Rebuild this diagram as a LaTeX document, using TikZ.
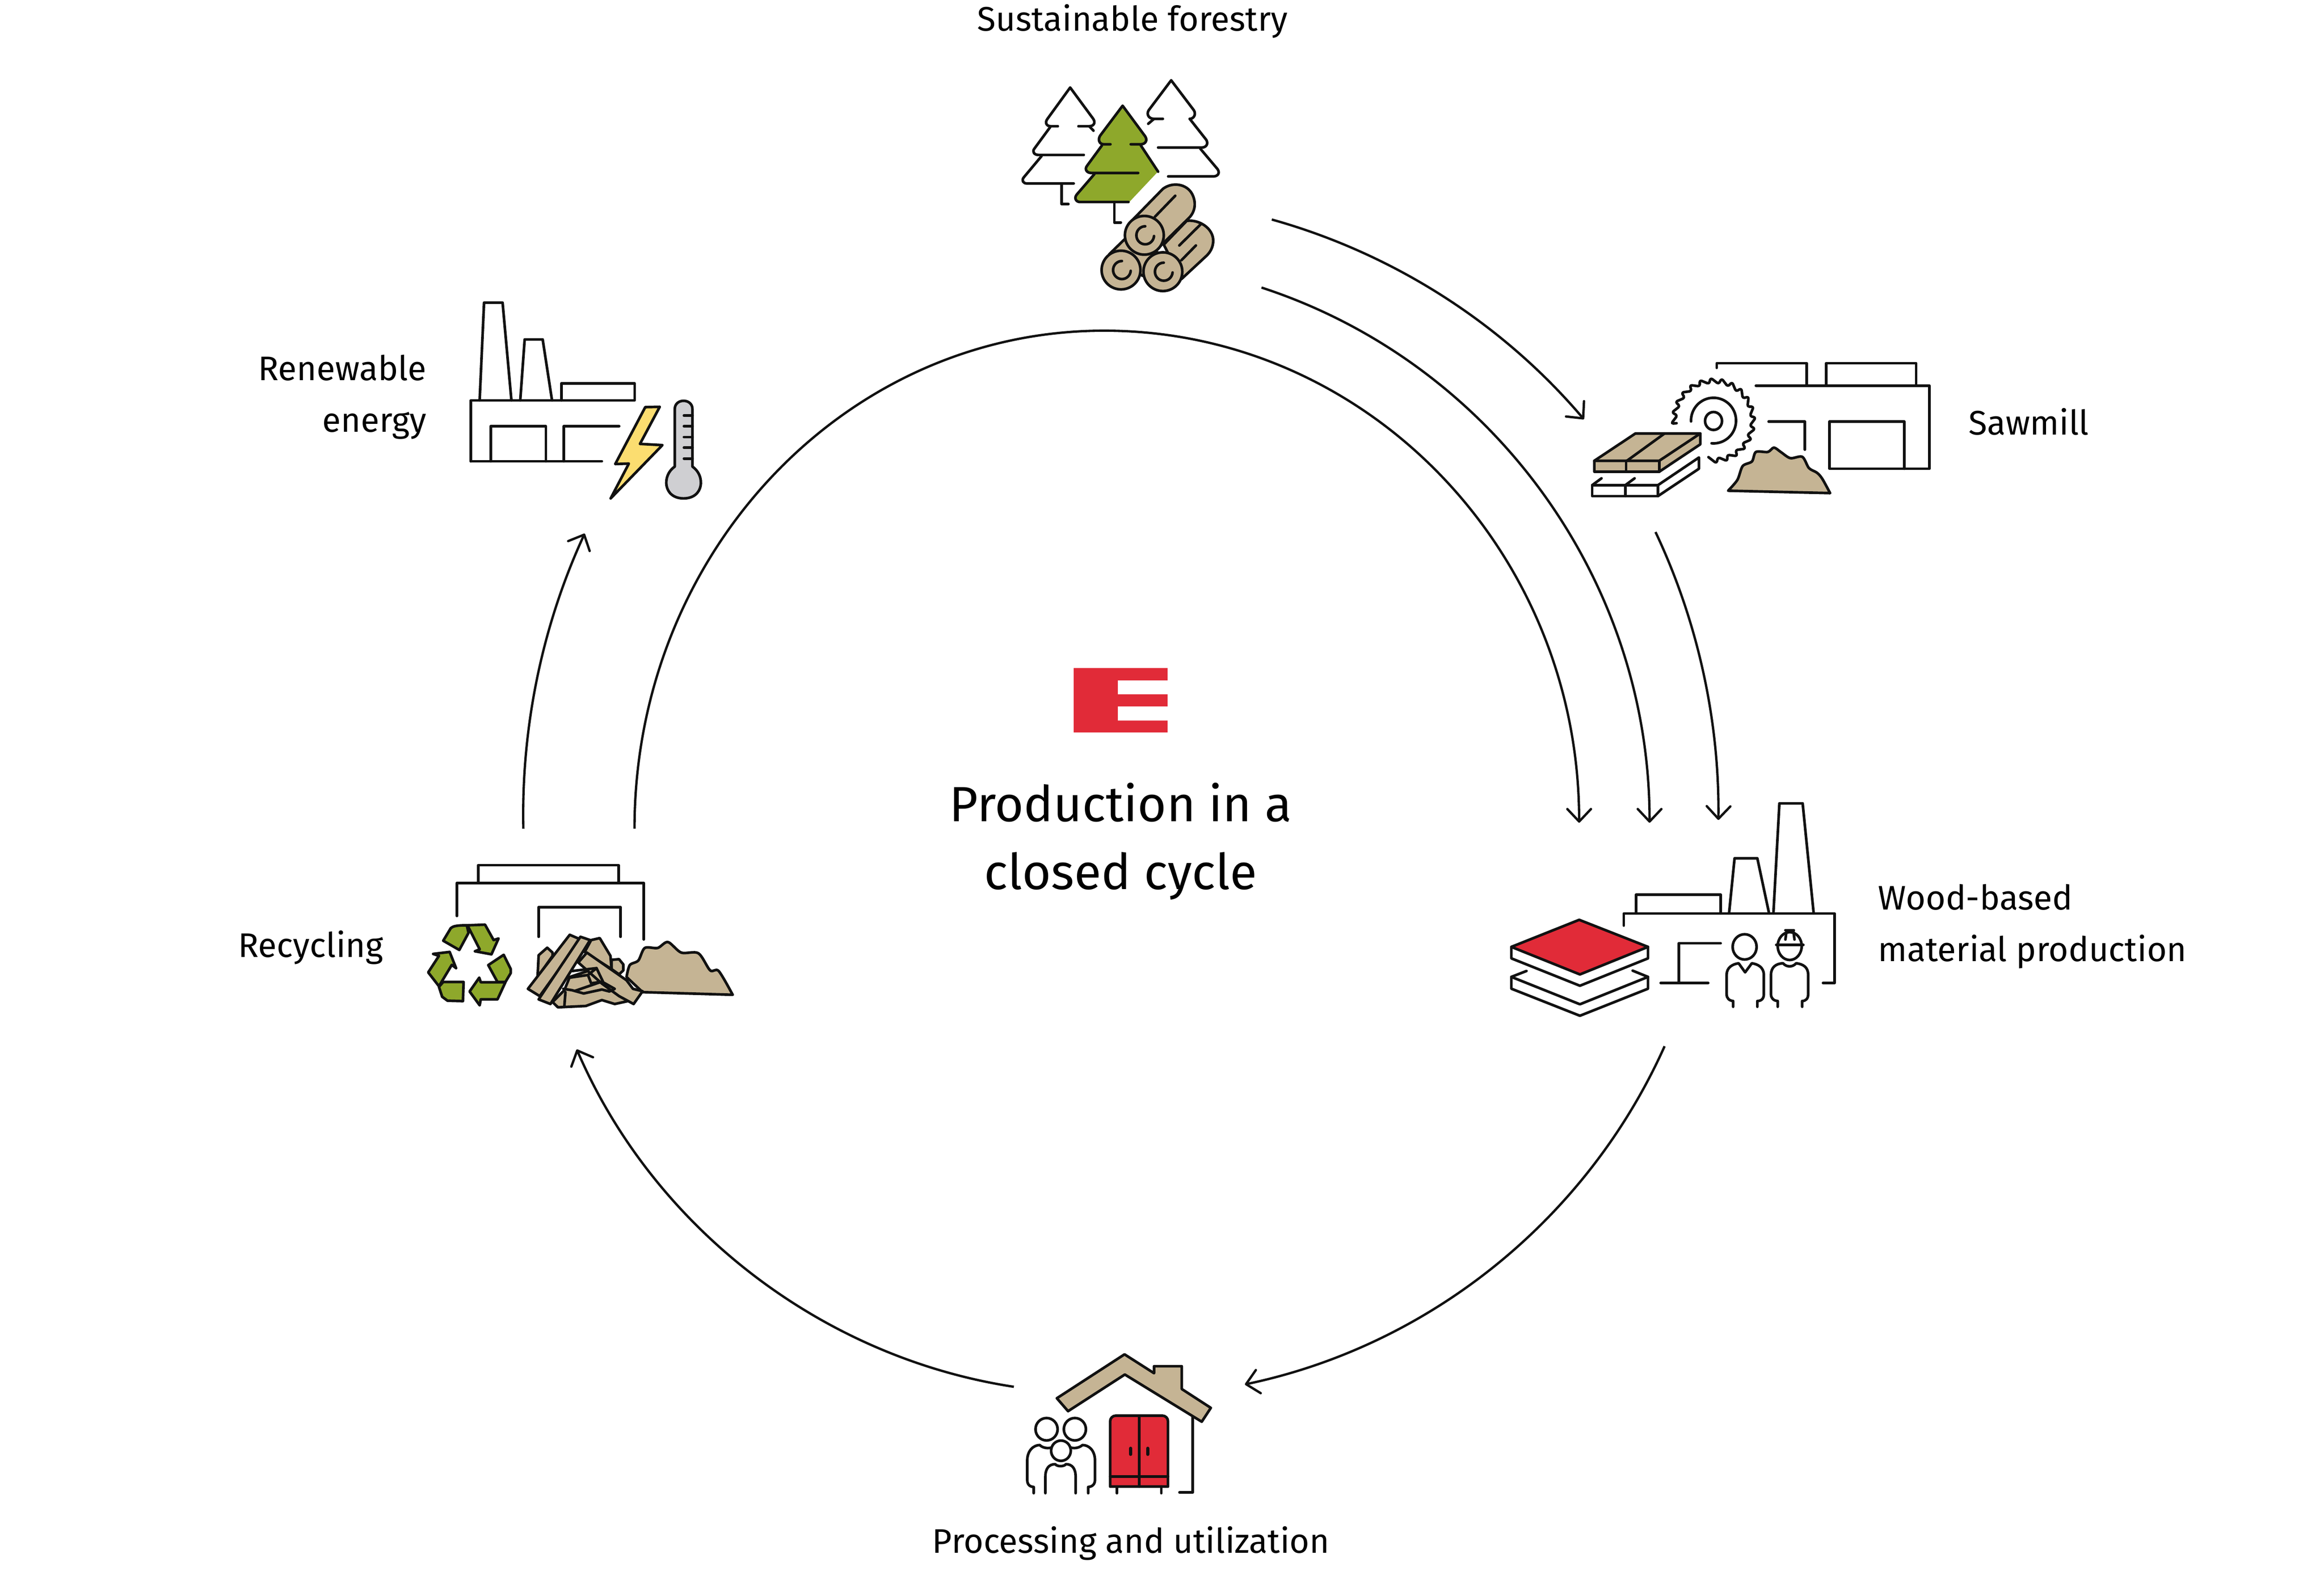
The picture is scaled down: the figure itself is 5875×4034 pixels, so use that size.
\documentclass[tikz,border=0pt]{standalone}
\usepackage{fontspec}
\setmainfont{Fira Sans}
\usetikzlibrary{arrows.meta,positioning}
\definecolor{inkblack}{HTML}{111111}
\definecolor{woodtan}{HTML}{C5B494}
\definecolor{forestgreen}{HTML}{8EA82B}
\definecolor{brandred}{HTML}{E12B38}
\definecolor{boltyellow}{HTML}{FBDD70}
\definecolor{metalgray}{HTML}{CFCFD2}

\begin{document}
\begin{tikzpicture}[
       x=0.01cm, y=-0.01cm,
       ink/.style={draw=inkblack, line width=1.9pt, line join=round, line cap=round},
       wood/.style={ink, fill=woodtan},
       leaf/.style={ink, fill=forestgreen},
       flow/.style={draw=inkblack, line width=1.7pt, -{Straight Barb[length=9pt,width=17pt,round]}},
       tag/.style={font=\fontsize{24.5}{37}\selectfont, text=black, inner sep=0pt},
       headline/.style={font=\fontsize{35.6}{49}\selectfont, text=black, inner sep=0pt, align=center}
      ]
      \useasboundingbox (0,0) rectangle (5875,4034);

      % labels
      \node[tag] (forestry) at (2863,54) {Sustainable forestry};
      \node[tag, anchor=west] (sawmill) at (4976,1066) {Sawmill};
      \node[tag, anchor=west, align=left] (board) at (4747,2342) {Wood-based\\material production};
      \node[tag] (utilization) at (2859,3902) {Processing and utilization};
      \node[tag, anchor=east] (recycling) at (970,2396) {Recycling};
      \node[tag, anchor=east, align=right] (energy) at (1079,1004) {Renewable\\energy};
      \node[headline] (cycle) at (2833,2127) {Production in a\\closed cycle};

      % connector ends
      \coordinate (forestA) at (3215,555);
      \coordinate (sawIn) at (4004,1060);
      \coordinate (forestB) at (3189,727);
      \coordinate (boardInB) at (4170,2080);
      \coordinate (recycleOut) at (1604,2095);
      \coordinate (topArc) at (2791,836);
      \coordinate (boardInA) at (3992,2080);
      \coordinate (sawOut) at (4185,1345);
      \coordinate (boardInC) at (4344,2073);
      \coordinate (boardOut) at (4208,2645);
      \coordinate (useIn) at (3147,3500);
      \coordinate (useOut) at (2563,3506);
      \coordinate (recycleIn) at (1458,2653);
      \coordinate (recycleUp) at (1323,2095);
      \coordinate (energyIn) at (1478,1349);

      \draw[flow] (forestA) to[bend left=17, looseness=0.87] (sawIn);
      \draw[flow] (forestB) to[bend left=36, looseness=0.94] (boardInB);
      \draw[flow] (recycleOut) .. controls (1604,1400) and (2135,836) .. (topArc)
                  .. controls (3454,836) and (3992,1393) .. (boardInA);
      \draw[flow] (sawOut) to[bend left=13, looseness=0.86] (boardInC);
      \draw[flow] (boardOut) to[bend left=27, looseness=0.9] (useIn);
      \draw[flow] (useOut) to[bend left=29, looseness=0.9] (recycleIn);
      \draw[flow] (recycleUp) to[bend left=13, looseness=0.86] (energyIn);

      % logo
      \begin{scope}[shift={(2650,1650)}, scale=0.3333]
        \fill[brandred] (193,117) -- (904,117) -- (904,210) -- (527,210) -- (527,316) -- (904,316)
          -- (904,408) -- (527,408) -- (527,515) -- (904,515) -- (904,605) -- (193,605) -- cycle;
      \end{scope}

      % forest
      \begin{scope}[shift={(2500,150)}, xscale=0.4464, yscale=0.4146]
        \draw[ink] (390,408) -- (350,408) .. controls (325,408) and (315,385) .. (332,362) -- (460,172) -- (590,362)
          .. controls (605,385) and (595,408) .. (568,408) -- (507,408);
        \draw[ink] (568,408) -- (592,435);
        \draw[ink] (347,413) -- (257,545) .. controls (243,565) and (258,583) .. (280,583) -- (537,583);
        \draw[ink] (298,590) -- (197,720) .. controls (183,740) and (195,757) .. (215,757) -- (480,757);
        \draw[ink] (412,757) -- (412,883) -- (450,883);

        \draw[ink] (985,363) -- (935,363) .. controls (905,363) and (890,335) .. (905,310) -- (1032,128) -- (1160,310)
          .. controls (1175,335) and (1160,363) .. (1137,363);
        \draw[ink] (935,363) -- (902,393);
        \draw[ink] (1137,363) -- (1230,490) .. controls (1245,515) and (1230,538) .. (1205,538) -- (958,538);
        \draw[ink] (1197,545) -- (1295,670) .. controls (1310,695) and (1295,714) .. (1270,714) -- (1015,714);

        \fill[forestgreen] (757,283) -- (885,470) .. controls (900,495) and (885,518) .. (860,518) -- (957,685)
          -- (795,870) -- (515,870) .. controls (490,870) and (480,845) .. (497,825) -- (597,700) -- (580,693)
          .. controls (555,693) and (540,672) .. (555,650) -- (640,525) .. controls (615,518) and (615,490) .. (630,465) -- cycle;
        \draw[ink] (688,518) -- (650,518) .. controls (625,518) and (615,490) .. (630,465) -- (757,283) -- (885,470)
          .. controls (900,495) and (885,518) .. (860,518) -- (803,518);
        \draw[ink] (640,525) -- (555,650) .. controls (540,672) and (555,693) .. (580,693) -- (845,693);
        \draw[ink] (860,525) -- (958,685);
        \draw[ink] (597,700) -- (497,825) .. controls (480,848) and (495,870) .. (515,870) -- (790,870);
        \draw[ink] (710,870) -- (710,995) -- (747,995);

        \draw[wood] (680,1190) -- (775,1090) -- (960,1180) -- (870,1320) -- cycle;
        \draw[wood] (990,1130) -- (1120,985) .. controls (1190,975) and (1270,1030) .. (1270,1105)
          .. controls (1270,1150) and (1250,1180) .. (1230,1200) -- (1090,1340) -- cycle;
        \draw[wood] (808,985) -- (985,790) .. controls (1040,745) and (1120,760) .. (1150,820)
          .. controls (1175,870) and (1170,930) .. (1130,970) -- (960,1150) -- cycle;
        \draw[ink] (940,960) -- (1055,832);
        \draw[ink] (1078,1135) -- (1200,1005);
        \draw[ink] (1090,1225) -- (1172,1135);
        \foreach \cx/\cy in {748/1285,985/1295,880/1073} {
          \draw[wood] (\cx,\cy) ellipse[x radius=110, y radius=118];
          \draw[ink] (\cx+5,\cy-55) arc[start angle=270, end angle=5, x radius=50, y radius=55];
        }
      \end{scope}

      % sawmill
      \begin{scope}[shift={(3950,850)}, xscale=0.6697, yscale=0.3333]
        \draw[ink] (730,375) -- (1385,375) -- (1385,1005) -- (1008,1005) -- (1008,648) -- (1290,648) -- (1290,1005);
        \draw[ink] (582,240) -- (582,205) -- (922,205) -- (922,375);
        \draw[ink] (995,375) -- (995,205) -- (1335,205) -- (1335,375);
        \draw[ink] (778,648) -- (915,648) -- (915,860);
        \begin{scope}[shift={(570,640)}]
          \draw[ink, rounded corners=1.5pt] (176:140 and 285) \foreach \a in {176,191,...,446} { -- (\a:160 and 325) -- (\a+12:138 and 280) };
          \draw[ink] (178:85 and 173) arc[start angle=178, end angle=455, x radius=85, y radius=173];
          \draw[ink] (0,3) ellipse[x radius=32, y radius=68];
        \end{scope}
        \draw[wood] (120,945) -- (275,738) -- (520,738) -- (520,820) -- (365,1028) -- (120,1028) -- cycle;
        \draw[ink] (120,945) -- (365,945) -- (520,738);
        \draw[ink] (365,945) -- (365,1028);
        \draw[ink] (243,945) -- (385,738);
        \draw[ink] (240,945) -- (240,1028);
        \draw[ink] (112,1130) -- (360,1130) -- (360,1213) -- (112,1213) -- cycle;
        \draw[ink] (237,1130) -- (237,1213);
        \draw[ink] (360,1130) -- (515,920) -- (515,1005) -- (360,1213);
        \draw[ink] (112,1130) -- (147,1078);
        \draw[ink] (237,1130) -- (272,1078);
        \draw[wood] plot[smooth, tension=0.5] coordinates {(625,1172) (660,1090) (680,985) (715,950) (730,878)
          (775,878) (798,845) (825,880) (860,925) (905,915) (930,1000) (960,1035) (980,1080) (1010,1190)} -- cycle;
      \end{scope}

      % board plant
      \begin{scope}[shift={(3780,2000)}, xscale=0.6061, yscale=0.4146]
        \draw[ink] (536,820) -- (536,746) -- (1415,746) -- (1415,1170) -- (1367,1170);
        \draw[ink] (587,746) -- (587,632) -- (940,632) -- (940,746);
        \draw[ink] (975,746) -- (998,410) -- (1093,410) -- (1142,746);
        \draw[ink] (1160,746) -- (1185,75) -- (1282,75) -- (1328,746);
        \draw[ink] (940,928) -- (765,928) -- (765,1170);
        \draw[ink] (690,1170) -- (888,1170);
        \draw[ink, fill=brandred] (350,785) -- (637,950) -- (353,1118) -- (67,950) -- cycle;
        \draw[ink] (67,950) -- (67,1020) -- (353,1187) -- (637,1020) -- (637,950);
        \draw[ink] (130,1097) -- (67,1133) -- (353,1300) -- (637,1133) -- (573,1095);
        \draw[ink] (67,1133) -- (67,1205) -- (353,1370) -- (637,1205) -- (637,1133);
        \draw[ink] (1040,950) ellipse[x radius=50, y radius=77];
        \draw[ink] (992,1315) -- (992,1280) .. controls (975,1278) and (965,1262) .. (965,1240) -- (965,1120)
          .. controls (965,1075) and (990,1055) .. (1015,1050) -- (1042,1105) -- (1070,1050)
          .. controls (1095,1055) and (1120,1075) .. (1120,1120) -- (1120,1240)
          .. controls (1120,1265) and (1110,1280) .. (1093,1280) -- (1093,1315);
        \draw[ink] (1228,945) ellipse[x radius=50, y radius=85];
        \draw[ink] (1172,938) -- (1285,938);
        \draw[ink] (1210,848) -- (1245,848);
        \draw[ink] (1210,905) -- (1215,850);
        \draw[ink] (1248,905) -- (1243,850);
        \draw[ink] (1178,1315) -- (1178,1280) .. controls (1160,1278) and (1150,1262) .. (1150,1240) -- (1150,1120)
          .. controls (1150,1075) and (1170,1052) .. (1200,1050) .. controls (1215,1075) and (1240,1075) .. (1255,1050)
          .. controls (1285,1055) and (1305,1075) .. (1305,1120) -- (1305,1240)
          .. controls (1305,1265) and (1295,1280) .. (1280,1280) -- (1280,1315);
      \end{scope}

      % house
      \begin{scope}[shift={(2550,3400)}, xscale=0.3827, yscale=0.3333]
        \draw[wood] (318,405) -- (765,72) -- (960,215) -- (960,162) -- (1143,162) -- (1143,335) -- (1335,478)
          -- (1275,583) -- (767,225) -- (392,503) -- cycle;
        \draw[ink] (1215,545) -- (1215,1120) -- (1128,1120);
        \draw[ink, fill=brandred] (670,1075) [rounded corners=4pt] -- (670,537) -- (1052,537) [sharp corners] -- (1052,1075) -- cycle;
        \draw[ink] (862,537) -- (862,1075);
        \draw[ink] (670,998) -- (1052,998);
        \draw[ink, line width=2.4pt] (805,785) -- (805,830);
        \draw[ink, line width=2.4pt] (918,785) -- (918,830);
        \draw[ink] (715,1075) -- (715,1125);
        \draw[ink] (1008,1075) -- (1008,1125);
        \draw[ink] (250,640) ellipse[x radius=73, y radius=85];
        \draw[ink] (437,640) ellipse[x radius=73, y radius=85];
        \draw[ink] (345,803) ellipse[x radius=65, y radius=77];
        \draw[ink] (165,1125) -- (165,1078) .. controls (130,1075) and (122,1050) .. (122,1020) -- (122,880)
          .. controls (122,800) and (165,760) .. (205,760) .. controls (220,778) and (250,788) .. (280,780);
        \draw[ink] (525,1125) -- (525,1078) .. controls (560,1075) and (570,1050) .. (570,1020) -- (570,880)
          .. controls (570,800) and (530,760) .. (487,760) .. controls (470,778) and (440,788) .. (412,780);
        \draw[ink] (242,1125) -- (242,1000) .. controls (242,940) and (265,905) .. (307,905)
          .. controls (320,925) and (365,925) .. (378,905) .. controls (420,905) and (442,940) .. (442,1000) -- (442,1125);
      \end{scope}

      % recycling
      \begin{scope}[shift={(1050,2150)}, xscale=0.542, yscale=0.3333]
        \draw[ink] (194,497) -- (194,247) -- (1065,247) -- (1065,675);
        \draw[ink] (293,247) -- (293,112) -- (948,112) -- (948,247);
        \draw[ink] (575,655) -- (575,430) -- (957,430) -- (957,655);
        \draw[leaf] (130,685) -- (165,590) .. controls (175,575) and (190,568) .. (240,568) -- (248,625) -- (205,755) -- cycle;
        \draw[leaf] (243,568) -- (325,563) -- (365,680) -- (388,668) -- (355,788) -- (278,765) -- (300,750) -- cycle;
        \draw[leaf] (340,870) -- (412,792) -- (445,900) -- (445,930) -- (420,998) -- (383,998) -- cycle;
        \draw[leaf] (420,1000) -- (305,1000) -- (298,965) -- (253,1070) -- (300,1175) -- (305,1130) -- (383,1130) -- cycle;
        \draw[leaf] (225,998) -- (130,998) -- (110,1035) -- (125,1110) -- (150,1140) -- (222,1143) -- cycle;
        \draw[leaf] (60,925) -- (110,800) -- (83,785) -- (160,770) -- (190,893) -- (170,868) -- (110,1030) -- cycle;
        \draw[wood] plot[smooth, tension=0.5] coordinates {(985,960) (1000,870) (1040,835) (1070,740) (1130,740)
          (1178,695) (1240,775) (1320,780) (1375,910) (1415,915) (1480,1095)} -- (1060,1075) -- cycle;
        \draw[wood] (575,795) -- (615,738) -- (640,775) -- (640,800) -- (570,960) -- cycle;
        \draw[wood] (915,830) -- (950,825) -- (970,865) -- (970,910) -- (950,940) -- (915,900) -- cycle;
        \draw[wood] (820,680) -- (860,665) -- (910,800) -- (915,900) -- (790,770) -- cycle;
        \draw[wood] (720,960) -- (850,890) -- (880,1000) -- (930,1050) -- (1000,1140) -- (930,1165) -- (870,1135)
          -- (795,1180) -- (665,1190) -- (640,1150) -- (695,1060) -- cycle;
        \draw[wood] (800,775) -- (985,985) -- (1015,1050) -- (1060,1068) -- (1018,1165) -- (950,1105) -- (870,1010) -- (760,850) -- cycle;
        \draw[ink] (730,915) -- (845,893);
        \draw[ink] (720,965) -- (805,945) -- (845,893) -- (875,995) -- (820,1008) -- (805,945);
        \draw[ink] (690,1050) -- (730,1060) -- (785,1085) -- (870,1055) -- (905,1070) -- (930,1050) -- (870,995) -- (745,1065);
        \draw[ink] (700,1075) -- (695,1180);
        \draw[wood] (720,640) -- (770,675) -- (580,1105) -- (525,1050) -- cycle;
        \draw[wood] (770,655) -- (815,680) -- (630,1165) -- (575,1130) -- cycle;
      \end{scope}

      % energy plant
      \begin{scope}[shift={(1150,730)}, xscale=0.4464, yscale=0.3827]
        \draw[ink] (90,1140) -- (90,738) -- (1018,738) -- (1018,625) -- (603,625) -- (603,738);
        \draw[ink] (90,1140) -- (832,1140);
        \draw[ink] (140,738) -- (165,92) -- (270,92) -- (320,738);
        \draw[ink] (370,738) -- (395,335) -- (497,335) -- (550,738);
        \draw[ink] (203,1140) -- (203,908) -- (515,908) -- (515,1140);
        \draw[ink] (617,1140) -- (617,908) -- (930,908);
        \draw[ink, fill=boltyellow] (1078,782) -- (1160,780) -- (1048,1025) -- (1175,1033) -- (882,1385) -- (985,1155) -- (908,1158) -- cycle;
        \draw[ink, fill=metalgray] (1245,1175) -- (1245,795) .. controls (1245,722) and (1345,722) .. (1345,795) -- (1345,1175)
          .. controls (1420,1235) and (1410,1385) .. (1295,1385) .. controls (1180,1385) and (1170,1235) .. (1245,1175) -- cycle;
        \foreach \ty in {838,908,980,1050,1122} {
          \draw[ink] (1297,\ty) -- (1345,\ty);
        }
      \end{scope}

\end{tikzpicture}
\end{document}
